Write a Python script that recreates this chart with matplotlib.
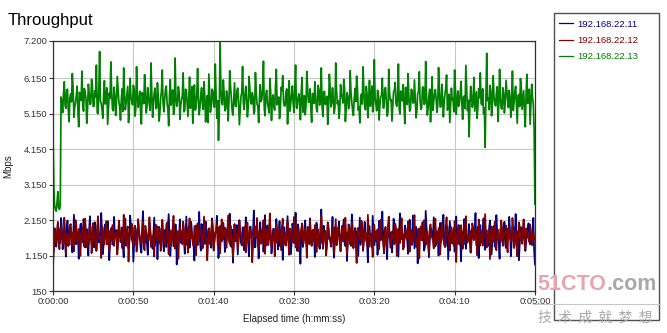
import numpy as np
import matplotlib.pyplot as plt
from matplotlib.patches import Rectangle
from matplotlib.lines import Line2D

# Throughput samples (Mbps): one list on the whole seconds 0..300,
# one list on the half seconds 0.5..299.5
seconds = list(range(0, 301))
half_seconds = [s + 0.5 for s in range(0, 300)]

green_13 = [
    4.55, 2.55, 2.40, 2.95, 2.45,
    5.62, 5.18, 6.05, 5.30, 5.84, 4.92, 5.71, 6.28, 5.05, 5.47, 5.93, 4.78, 5.60, 6.35, 5.22, 5.76, 4.88, 5.98, 5.41, 6.12,
    5.35, 5.80, 6.52, 5.15, 6.90, 5.44, 5.02, 6.08, 5.57, 4.85, 5.73, 6.61, 5.28, 5.90, 5.10, 6.20, 5.48, 4.97, 5.85, 6.44,
    5.26, 5.69, 4.90, 6.15, 5.52, 5.95, 5.08, 6.47, 5.33, 5.78, 4.86, 5.62, 6.25, 5.17, 5.88, 5.40, 6.58, 5.05, 5.74, 5.29,
    6.02, 4.94, 5.58, 6.38, 5.20, 5.83, 5.45, 4.81, 6.11, 5.64, 5.13, 6.72, 5.36, 5.91, 4.99, 5.55, 6.30, 5.24, 5.80, 5.07,
    6.18, 5.50, 4.88, 5.96, 5.31, 6.42, 5.12, 5.70, 5.43, 6.05, 4.92, 5.66, 6.27, 5.19, 5.84, 5.38, 6.55, 5.02, 4.40, 7.15,
    5.46, 6.10, 5.23, 5.79, 4.95, 6.36, 5.58, 5.11, 6.02, 5.35, 5.87, 4.84, 5.63, 6.48, 5.27, 5.92, 5.06, 6.20, 5.49, 5.74,
    5.15, 6.31, 5.42, 4.90, 5.97, 5.56, 6.63, 5.09, 5.81, 5.32, 6.14, 4.96, 5.68, 5.25, 6.40, 5.53, 5.01, 5.89, 6.22, 5.37,
    5.76, 4.86, 6.08, 5.44, 5.93, 5.18, 6.52, 5.30, 5.71, 4.98, 6.17, 5.60, 5.12, 6.34, 5.47, 5.85, 4.91, 5.66, 6.05, 5.28,
    5.95, 5.39, 6.44, 5.07, 5.78, 5.51, 4.85, 6.26, 5.34, 5.88, 5.16, 6.58, 5.43, 5.02, 5.97, 5.61, 6.12, 4.93, 5.74, 5.29,
    6.36, 5.48, 5.10, 5.86, 6.21, 5.25, 4.89, 5.70, 6.47, 5.37, 5.92, 5.04, 6.09, 5.55, 5.20, 6.67, 5.42, 5.81, 4.97, 5.63,
    6.15, 5.31, 5.89, 5.08, 6.40, 5.52, 4.94, 5.77, 6.03, 5.36, 6.55, 5.14, 5.68, 5.97, 4.87, 5.59, 6.28, 5.22, 5.84, 5.45,
    6.10, 5.03, 5.73, 6.33, 5.27, 5.90, 5.41, 6.62, 5.11, 5.66, 4.92, 6.19, 5.50, 5.83, 5.19, 6.45, 5.34, 5.98, 5.06, 5.71,
    6.24, 5.38, 4.90, 5.87, 5.57, 6.38, 5.13, 5.79, 5.46, 6.06, 4.99, 5.65, 6.51, 5.24, 4.50, 5.92, 5.33, 6.17, 5.48, 5.02,
    5.86, 6.30, 5.40, 5.15, 4.20, 6.85, 5.58, 5.95, 5.09, 6.22, 5.44, 5.73, 4.93, 6.40, 5.30, 5.88, 5.17, 6.09, 5.52, 5.81,
    5.05, 6.35, 5.46, 5.92, 4.88, 5.69, 6.14, 5.27, 5.80, 4.78, 6.26, 5.55, 4.85, 5.98, 5.40,
    2.60]
green_13_half = [
    3.10, 2.45, 2.65, 2.50, 2.55, 5.45, 5.70, 5.38, 5.82, 5.25, 5.60, 5.48, 5.90, 5.33, 5.66, 5.20, 5.75, 5.52, 5.41, 5.86,
    5.57, 5.29, 5.73, 5.44, 5.95, 5.36, 5.62, 5.18, 5.80, 5.50, 5.27, 5.69, 5.42, 5.88, 5.31, 5.58, 5.76, 5.23, 5.64, 5.47,
    5.83, 5.35, 5.55, 5.21, 5.78, 5.46, 5.92, 5.30, 5.61, 5.40, 5.85, 5.26, 5.68, 5.53, 5.19, 5.74, 5.43, 5.89, 5.34, 5.59,
    5.24, 5.71, 5.49, 5.87, 5.32, 5.63, 5.16, 5.79, 5.45, 5.56, 5.93, 5.28, 5.67, 5.39, 5.82, 5.22, 5.60, 5.51, 5.77, 5.37,
    5.65, 5.20, 5.84, 5.43, 5.58, 5.30, 5.91, 5.48, 5.25, 5.72, 5.54, 5.35, 5.88, 5.27, 5.62, 5.46, 4.90, 5.70, 5.41, 5.79,
    5.33, 5.66, 5.52, 5.18, 5.86, 5.40, 5.73, 5.29, 5.61, 5.47, 5.94, 5.23, 5.57, 5.38, 5.81, 5.50, 5.26, 5.75, 5.44, 5.68,
    5.55, 5.31, 5.89, 5.42, 5.64, 5.21, 5.78, 5.36, 5.59, 5.49, 5.83, 5.28, 5.70, 5.45, 5.17, 5.76, 5.53, 5.34, 5.92, 5.40,
    5.62, 5.25, 5.80, 5.47, 5.37, 5.85, 5.56, 5.22, 5.69, 5.43, 5.90, 5.32, 5.58, 5.51, 5.74, 5.19, 5.66, 5.39, 5.87, 5.48,
    5.29, 5.72, 5.44, 5.60, 5.20, 5.83, 5.50, 5.35, 5.77, 5.41, 5.64, 5.27, 5.91, 5.46, 5.55, 5.33, 5.79, 5.52, 5.24, 5.68,
    5.45, 5.86, 5.30, 5.63, 5.38, 5.74, 5.22, 5.57, 5.49, 5.88, 5.34, 5.61, 5.42, 5.80, 5.26, 5.70, 5.53, 5.36, 5.93, 5.47,
    5.58, 5.23, 5.76, 5.40, 5.67, 5.31, 5.85, 5.48, 5.19, 5.72, 5.55, 5.37, 5.82, 5.44, 5.62, 5.28, 5.79, 5.51, 5.35, 5.89,
    5.41, 5.65, 5.27, 5.81, 5.46, 5.59, 5.21, 5.75, 5.52, 5.33, 5.90, 5.43, 5.68, 5.30, 5.84, 5.49, 5.24, 5.71, 5.56, 5.38,
    5.78, 5.34, 5.62, 5.47, 5.87, 5.25, 5.70, 5.42, 5.55, 5.20, 5.83, 5.50, 5.36, 5.74, 5.44, 5.61, 5.29, 5.88, 5.53, 5.39,
    5.66, 5.48, 5.22, 5.77, 5.35, 5.60, 5.43, 5.85, 5.31, 5.69, 5.52, 5.26, 5.80, 5.45, 5.63, 5.37, 5.91, 5.40, 5.57, 5.28,
    5.73, 5.46, 5.82, 5.32, 5.59, 5.50, 5.24, 5.76, 5.41, 5.67, 5.35, 5.88, 5.53, 5.21, 5.70, 5.44, 5.84, 5.38, 5.62, 4.70]

blue_11 = [
    0.85, 1.92, 1.40, 2.05, 1.58, 2.21, 1.33, 1.86, 1.12, 2.14, 1.67, 1.95, 1.24, 2.30, 1.49, 1.81, 1.06, 2.02, 1.61, 2.18,
    1.38, 1.90, 1.15, 2.26, 1.72, 1.44, 2.09, 1.28, 1.97, 1.55, 2.35, 1.19, 1.83, 1.63, 2.12, 1.02, 1.88, 1.46, 2.24, 1.70,
    1.31, 2.06, 1.53, 1.94, 1.10, 2.19, 1.75, 1.36, 2.28, 1.59, 0.98, 1.99, 1.42, 2.16, 1.66, 1.23, 2.40, 1.50, 1.85, 1.17,
    2.08, 1.62, 1.34, 2.22, 1.78, 1.05, 1.96, 1.47, 2.13, 1.27, 1.89, 1.56, 2.32, 1.14, 1.80, 1.41, 2.03, 0.90, 1.73, 2.17,
    1.52, 1.93, 1.20, 2.25, 1.65, 1.37, 2.10, 1.58, 1.01, 2.00, 1.44, 2.38, 1.29, 1.84, 1.69, 2.11, 1.16, 1.91, 1.48, 2.20,
    1.35, 1.79, 2.27, 1.08, 1.98, 1.55, 2.07, 1.25, 1.87, 1.63, 2.33, 1.40, 0.95, 2.04, 1.71, 1.18, 2.15, 1.51, 1.94, 1.30,
    2.23, 1.60, 1.13, 1.97, 1.76, 2.42, 1.39, 1.82, 1.07, 2.09, 1.57, 1.26, 2.29, 1.68, 1.45, 2.01, 1.21, 1.90, 1.54, 2.18,
    1.32, 2.12, 1.74, 1.03, 1.95, 1.43, 2.26, 1.64, 1.19, 2.05, 1.50, 2.36, 1.28, 1.86, 0.92, 1.99, 1.59, 2.14, 1.37, 1.81,
    2.20, 1.46, 1.88, 1.11, 2.08, 1.67, 1.34, 2.45, 1.53, 1.77, 1.22, 2.02, 1.60, 1.40, 2.24, 1.09, 1.92, 1.70, 2.11, 1.27,
    1.85, 2.17, 1.42, 1.00, 2.03, 1.62, 2.31, 1.36, 1.93, 1.49, 1.14, 2.22, 1.73, 1.30, 2.10, 1.56, 0.96, 1.98, 1.66, 2.27,
    1.44, 1.83, 1.17, 2.13, 1.58, 2.39, 1.33, 1.90, 1.05, 2.06, 1.69, 1.24, 2.19, 1.52, 1.87, 1.12, 2.34, 1.61, 1.38, 2.00,
    1.75, 1.20, 2.16, 1.47, 2.28, 1.35, 1.96, 0.93, 1.80, 1.64, 2.09, 1.29, 2.41, 1.55, 1.10, 1.94, 1.72, 2.23, 1.41, 1.84,
    1.15, 2.07, 1.63, 2.30, 1.39, 1.89, 1.04, 2.12, 1.57, 1.78, 1.26, 2.25, 1.48, 1.97, 0.99, 1.82, 2.18, 1.34, 1.70, 2.04,
    1.23, 1.91, 1.59, 2.35, 1.45, 1.08, 2.01, 1.67, 2.20, 1.31, 1.86, 1.53, 2.14, 1.18, 1.95, 1.40, 2.29, 1.62, 1.06, 1.88,
    1.50, 2.10, 1.36, 1.79, 2.24, 1.13, 1.98, 1.65, 2.32, 1.43, 1.02, 1.92, 1.56, 2.17, 1.28, 1.84, 2.06, 1.47, 1.74, 2.21,
    0.90]
blue_11_half = [
    1.40, 1.75, 1.62, 1.88, 1.50, 1.95, 1.68, 1.55, 1.83, 1.42, 2.01, 1.71, 1.58, 1.90, 1.47, 1.79, 1.64, 2.05, 1.53, 1.86,
    1.69, 1.45, 1.92, 1.60, 1.77, 1.38, 1.98, 1.66, 1.52, 1.85, 1.73, 1.44, 2.03, 1.61, 1.80, 1.49, 1.94, 1.57, 1.72, 1.87,
    1.54, 1.82, 1.67, 1.41, 1.96, 1.63, 1.78, 1.50, 2.00, 1.70, 1.46, 1.89, 1.59, 1.76, 1.36, 1.93, 1.65, 1.84, 1.48, 1.74,
    1.91, 1.56, 1.81, 1.43, 1.99, 1.68, 1.52, 1.87, 1.62, 1.79, 1.39, 1.95, 1.71, 1.55, 1.88, 1.47, 2.02, 1.64, 1.77, 1.51,
    1.85, 1.60, 1.73, 1.45, 1.97, 1.66, 1.81, 1.40, 1.92, 1.58, 1.75, 1.53, 2.04, 1.69, 1.48, 1.86, 1.63, 1.78, 1.37, 1.94,
    1.57, 1.83, 1.70, 1.46, 1.99, 1.61, 1.76, 1.51, 1.90, 1.67, 1.42, 1.88, 1.74, 1.55, 2.01, 1.64, 1.80, 1.44, 1.93, 1.59,
    1.72, 1.49, 1.95, 1.65, 1.82, 1.38, 1.97, 1.60, 1.76, 1.54, 1.89, 1.68, 1.43, 2.00, 1.63, 1.79, 1.50, 1.91, 1.57, 1.84,
    1.66, 1.41, 1.98, 1.71, 1.55, 1.87, 1.62, 1.78, 1.47, 1.93, 1.69, 1.52, 2.03, 1.64, 1.81, 1.39, 1.96, 1.58, 1.75, 1.86,
    1.53, 1.79, 1.68, 1.44, 1.92, 1.61, 1.85, 1.50, 1.99, 1.73, 1.46, 1.88, 1.65, 1.77, 1.40, 1.95, 1.60, 1.83, 1.56, 1.70,
    1.94, 1.48, 1.80, 1.63, 1.89, 1.42, 1.97, 1.67, 1.54, 1.84, 1.72, 1.45, 2.02, 1.59, 1.78, 1.51, 1.91, 1.66, 1.37, 1.86,
    1.62, 1.75, 1.49, 1.96, 1.70, 1.56, 1.88, 1.43, 1.93, 1.65, 1.81, 1.52, 2.00, 1.68, 1.47, 1.85, 1.61, 1.77, 1.40, 1.90,
    1.58, 1.83, 1.71, 1.45, 1.98, 1.64, 1.79, 1.50, 1.92, 1.60, 1.74, 1.39, 1.95, 1.67, 1.55, 1.87, 1.63, 1.82, 1.48, 1.76,
    1.89, 1.53, 1.78, 1.66, 1.42, 1.97, 1.61, 1.84, 1.49, 1.93, 1.70, 1.57, 2.01, 1.64, 1.80, 1.46, 1.90, 1.59, 1.73, 1.52,
    1.86, 1.63, 1.77, 1.44, 1.96, 1.68, 1.54, 1.88, 1.60, 1.81, 1.41, 1.94, 1.72, 1.56, 1.99, 1.65, 1.79, 1.48, 1.91, 1.58,
    1.74, 1.47, 1.92, 1.62, 1.85, 1.51, 1.97, 1.69, 1.55, 1.83, 1.43, 1.95, 1.66, 1.78, 1.50, 1.89, 1.61, 1.76, 1.45, 1.30]

red_12 = [
    1.00, 1.85, 1.52, 2.10, 1.33, 1.96, 1.61, 2.22, 1.20, 1.78, 1.45, 2.04, 1.68, 1.27, 2.15, 1.56, 1.90, 1.14, 1.83, 1.49,
    2.19, 1.38, 1.74, 1.99, 1.22, 2.07, 1.59, 1.31, 2.26, 1.66, 1.08, 1.93, 1.47, 2.12, 1.70, 1.25, 1.88, 2.01, 1.42, 1.79,
    1.18, 2.14, 1.63, 1.36, 2.30, 1.54, 1.87, 0.98, 1.76, 2.05, 1.41, 1.97, 1.26, 2.18, 1.69, 1.51, 2.09, 1.30, 1.82, 1.60,
    2.23, 1.39, 1.71, 1.12, 2.02, 1.58, 1.91, 1.28, 2.16, 1.65, 1.44, 2.08, 1.19, 1.86, 1.55, 2.27, 1.34, 1.77, 1.06, 1.95,
    1.62, 2.11, 1.40, 1.84, 1.23, 2.20, 1.73, 1.50, 1.98, 1.16, 2.06, 1.57, 1.89, 1.35, 2.25, 1.64, 1.02, 1.92, 1.46, 2.13,
    1.29, 1.80, 2.03, 1.53, 1.21, 2.17, 1.67, 1.94, 1.37, 2.28, 1.48, 1.75, 1.10, 2.00, 1.60, 1.32, 2.12, 1.72, 1.43, 1.96,
    1.24, 2.08, 1.56, 1.85, 0.96, 1.99, 1.66, 2.21, 1.35, 1.79, 1.51, 2.15, 1.20, 1.90, 1.62, 2.34, 1.41, 1.74, 1.13, 2.04,
    1.58, 1.87, 1.30, 2.19, 1.69, 1.45, 2.10, 1.17, 1.83, 1.54, 2.24, 1.38, 1.97, 1.27, 1.76, 2.06, 1.49, 1.92, 1.09, 1.81,
    2.14, 1.42, 1.70, 2.01, 1.25, 1.88, 1.59, 2.27, 1.34, 1.78, 1.15, 2.09, 1.63, 1.44, 1.95, 1.22, 2.18, 1.52, 1.86, 1.31,
    1.99, 1.61, 2.22, 1.19, 1.84, 1.47, 2.07, 1.36, 1.73, 0.94, 1.93, 1.57, 2.13, 1.28, 1.80, 1.65, 2.30, 1.40, 1.77, 1.11,
    2.02, 1.55, 1.89, 1.33, 2.16, 1.68, 1.21, 1.96, 1.48, 2.25, 1.37, 1.82, 1.60, 2.05, 1.14, 1.91, 1.50, 2.20, 1.32, 1.75,
    1.64, 2.11, 1.26, 1.87, 1.53, 2.29, 1.39, 1.71, 1.07, 1.98, 1.58, 2.15, 1.45, 1.83, 1.23, 2.03, 1.66, 1.35, 2.19, 1.50,
    1.92, 1.18, 2.08, 1.62, 1.40, 2.23, 1.74, 1.29, 1.95, 1.56, 2.12, 0.97, 1.85, 1.46, 2.01, 1.34, 1.79, 2.26, 1.52, 1.69,
    1.27, 2.06, 1.59, 1.90, 1.16, 2.17, 1.43, 1.81, 1.67, 2.32, 1.38, 1.76, 1.05, 1.97, 1.54, 2.10, 1.30, 1.88, 1.61, 2.14,
    1.42, 1.78, 2.00, 1.24, 1.93, 1.57, 2.21, 1.36, 1.84, 1.13, 2.09, 1.63, 1.48, 2.16, 1.31, 1.86, 1.70, 2.03, 1.45, 1.82,
    1.60]
red_12_half = [
    1.35, 1.70, 1.84, 1.55, 1.92, 1.63, 1.47, 1.89, 1.71, 1.58, 1.96, 1.44, 1.80, 1.66, 2.02, 1.52, 1.77, 1.61, 1.93, 1.40,
    1.82, 1.67, 1.49, 1.95, 1.59, 1.76, 1.43, 1.90, 1.68, 1.54, 2.00, 1.62, 1.79, 1.46, 1.87, 1.73, 1.56, 1.98, 1.64, 1.81,
    1.50, 1.91, 1.69, 1.57, 1.85, 1.42, 1.97, 1.65, 1.78, 1.53, 1.94, 1.70, 1.45, 1.88, 1.61, 1.83, 1.39, 1.99, 1.72, 1.58,
    1.86, 1.64, 1.48, 1.93, 1.75, 1.55, 1.90, 1.41, 1.80, 1.67, 2.01, 1.60, 1.77, 1.44, 1.95, 1.69, 1.52, 1.84, 1.63, 1.78,
    1.47, 1.92, 1.71, 1.56, 1.89, 1.62, 1.79, 1.43, 1.97, 1.66, 1.54, 1.87, 1.74, 1.40, 1.94, 1.61, 1.83, 1.51, 1.90, 1.68,
    1.58, 1.85, 1.45, 1.96, 1.72, 1.63, 1.88, 1.49, 1.81, 1.57, 2.00, 1.67, 1.42, 1.91, 1.76, 1.55, 1.86, 1.64, 1.46, 1.93,
    1.70, 1.53, 1.87, 1.65, 1.41, 1.98, 1.74, 1.59, 1.84, 1.48, 1.92, 1.62, 1.78, 1.45, 1.95, 1.68, 1.56, 1.89, 1.73, 1.50,
    1.83, 1.60, 1.94, 1.44, 1.77, 1.66, 1.52, 1.91, 1.69, 1.57, 1.99, 1.43, 1.81, 1.64, 1.88, 1.51, 1.75, 1.61, 1.96, 1.47,
    1.72, 1.86, 1.54, 1.93, 1.63, 1.40, 1.90, 1.76, 1.58, 1.85, 1.46, 1.97, 1.67, 1.53, 1.82, 1.71, 1.44, 1.94, 1.60, 1.79,
    1.55, 1.89, 1.65, 1.48, 1.96, 1.73, 1.59, 1.84, 1.42, 1.91, 1.68, 1.57, 2.02, 1.62, 1.80, 1.45, 1.87, 1.70, 1.52, 1.95,
    1.64, 1.78, 1.49, 1.92, 1.69, 1.56, 1.86, 1.43, 1.98, 1.75, 1.60, 1.83, 1.47, 1.94, 1.66, 1.54, 1.89, 1.72, 1.41, 1.85,
    1.61, 1.95, 1.74, 1.50, 1.88, 1.65, 1.44, 1.91, 1.77, 1.58, 1.99, 1.63, 1.79, 1.46, 1.93, 1.70, 1.55, 1.84, 1.67, 1.52,
    1.87, 1.60, 1.76, 1.45, 1.97, 1.68, 1.53, 1.90, 1.73, 1.42, 1.85, 1.64, 1.96, 1.57, 1.81, 1.49, 1.92, 1.71, 1.59, 1.83,
    1.48, 1.94, 1.66, 1.80, 1.55, 1.88, 1.62, 1.43, 1.98, 1.75, 1.59, 1.86, 1.51, 1.91, 1.69, 1.46, 1.84, 1.72, 1.57, 1.95,
    1.63, 1.79, 1.50, 1.93, 1.67, 1.56, 1.89, 1.44, 1.82, 1.70, 1.97, 1.58, 1.85, 1.47, 1.92, 1.65, 1.53, 1.88, 1.74, 1.62]

series_names = ['192.168.22.11', '192.168.22.12', '192.168.22.13']
series_colors = ['#000080', '#800000', '#008000']

y_ticks = [0.15, 1.15, 2.15, 3.15, 4.15, 5.15, 6.15, 7.2]
y_labels = ['150', '1.150', '2.150', '3.150', '4.150', '5.150', '6.150', '7.200']
x_ticks = [0, 50, 100, 150, 200, 250, 300]
x_labels = ['0:00:00', '0:00:50', '0:01:40', '0:02:30', '0:03:20', '0:04:10', '0:05:00']


def merge(full, half):
    # put the whole-second and half-second samples in time order
    t = np.array(seconds + half_seconds, dtype=float)
    v = np.array(full + half, dtype=float)
    idx = np.argsort(t)
    return t[idx], v[idx]


plt.rcParams['font.family'] = ['Liberation Sans', 'DejaVu Sans']

fig = plt.figure(figsize=(6.67, 3.33), dpi=100)
ax = fig.add_axes([0.0795, 0.126, 0.7225, 0.751])

tg, vg = merge(green_13, green_13_half)
tb, vb = merge(blue_11, blue_11_half)
tr, vr = merge(red_12, red_12_half)
# green drawn first, then blue, red on top
ax.plot(tg, vg, color=series_colors[2], lw=1.25, label=series_names[2])
ax.plot(tb, vb, color=series_colors[0], lw=1.25, label=series_names[0])
ax.plot(tr, vr, color=series_colors[1], lw=1.25, label=series_names[1])

ax.set_xlim(0, 300)
ax.set_ylim(0.15, 7.2)
ax.set_yticks(y_ticks)
ax.set_yticklabels(y_labels)
ax.set_xticks(x_ticks)
ax.set_xticklabels(x_labels)
ax.tick_params(labelsize=6.8, colors='#333333', length=3, width=0.8, pad=1)
ax.grid(True, color='#c8c8c8', lw=0.8)
ax.set_axisbelow(True)
for sp in ax.spines.values():
    sp.set_color('#303030')
    sp.set_linewidth(0.9)

ax.set_ylabel('Mbps', fontsize=7, color='#222222')
ax.yaxis.set_label_coords(-0.083, 0.5)
ax.set_xlabel('Elapsed time (h:mm:ss)', fontsize=7, color='#222222', labelpad=6)
fig.text(0.012, 0.925, 'Throughput', fontsize=12, color='black')

# legend box
fig.patches.append(Rectangle((554 / 667, 1 - 320 / 333), 105 / 667, 307 / 333,
                             transform=fig.transFigure, facecolor='white',
                             edgecolor='#505050', lw=1))
handles, labels = ax.get_legend_handles_labels()
order = [1, 2, 0]
leg = fig.legend([handles[i] for i in order], [labels[i] for i in order],
                 loc='upper left', bbox_to_anchor=(555 / 667, 1 - 16 / 333),
                 frameon=False, fontsize=6.8, handlelength=1.5, handletextpad=0.5,
                 labelspacing=0.75, labelcolor='linecolor', borderaxespad=0)
for h in leg.legend_handles:
    h.set_linewidth(0.9)

# watermark
fig.text(537 / 667, 1 - 295 / 333, '51CTO', fontsize=15.5, fontweight='bold',
         color='#e8a4ac', va='bottom')
fig.text(606 / 667, 1 - 295 / 333, '.com', fontsize=15.5, fontweight='bold',
         color='#a8a8a8', va='bottom')
fig.add_artist(Line2D([533 / 667, 659 / 667], [1 - 304 / 333, 1 - 304 / 333],
                      transform=fig.transFigure, color='#c8c8c8', lw=0.8))
fig.text(538 / 667, 1 - 318 / 333, '技  术  成  就  梦  想', fontsize=10,
         color='#a8a8a8', va='center', family=['Noto Sans CJK SC', 'DejaVu Sans'])

fig.savefig('out.png', dpi=100)
